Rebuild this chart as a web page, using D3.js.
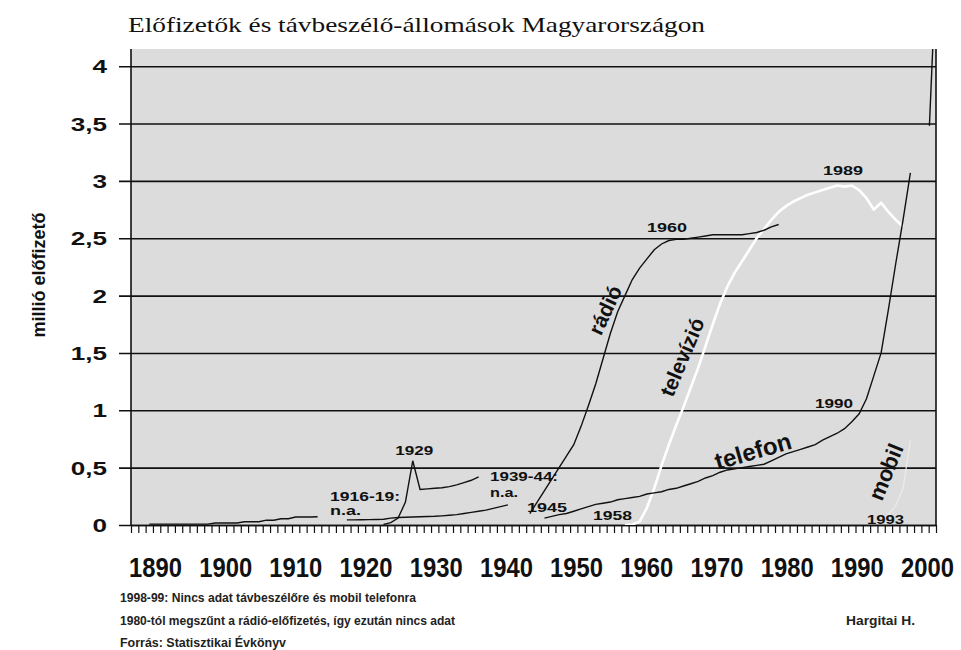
<!DOCTYPE html>
<html><head><meta charset="utf-8">
<script src="https://cdn.jsdelivr.net/npm/d3@7"></script>
<style>body{margin:0;background:#fff} svg{display:block}</style>
</head><body>
<svg id="c" width="961" height="650"></svg>
<script>
// ---------- data ----------
const xTickLabels = ["1890","1900","1910","1920","1930","1940","1950","1960","1970","1980","1990","2000"];
const yTickValues = [0,0.5,1,1.5,2,2.5,3,3.5,4];
const yTickLabels = ["0","0,5","1","1,5","2","2,5","3","3,5","4"];

// rádió (million subscribers); null = no data
const radioYears = d3.range(1925, 1980);
const radioValues = [
  0.005,0.02,0.06,0.2,0.56,0.31,0.315,0.32,0.325,0.335,0.35,0.37,0.39,0.42,
  null,null,null,null,null,null,
  0.1,0.2,0.3,0.4,0.5,0.6,0.7,0.86,1.04,1.23,1.45,1.67,1.86,2.0,2.14,2.24,2.32,2.4,2.45,2.48,
  2.49,2.49,2.5,2.51,2.52,2.53,2.53,2.53,2.53,2.53,2.54,2.55,2.57,2.6,2.62
];

// telefon (távbeszélő-állomások)
const telYears = d3.range(1893, 1998);
const telValues = [
  0.008,0.008,0.008,0.008,0.008,0.008,0.008,0.008,0.008,
  0.018,0.018,0.018,0.018,
  0.028,0.028,0.028,
  0.042,0.042,
  0.055,0.055,
  0.07,0.07,0.07,0.072,
  null,null,null,
  0.045,0.045,0.046,0.047,0.048,0.05,0.06,0.065,0.068,0.07,0.072,0.074,0.076,0.08,0.085,0.09,0.1,0.11,0.12,0.13,0.145,0.16,0.175,
  null,null,null,null,
  0.06,0.075,0.09,0.1,0.12,0.14,0.16,0.18,0.19,0.2,0.22,0.23,0.24,0.25,0.27,0.28,0.29,0.31,0.32,0.34,
  0.36,0.38,0.41,0.43,0.46,0.48,0.49,0.5,0.51,0.52,0.53,0.56,0.59,0.62,0.64,0.66,0.68,0.7,0.74,0.77,
  0.8,0.84,0.9,0.97,1.1,1.3,1.5,1.88,2.28,2.66,3.07
];

// televízió
const tvYears = d3.range(1958, 1997);
const tvValues = [
  0.0,0.005,0.03,0.15,0.32,0.52,0.7,0.87,1.03,1.2,1.37,1.56,1.75,1.93,2.08,2.2,2.3,2.4,2.5,2.58,
  2.66,2.73,2.78,2.82,2.85,2.88,2.9,2.92,2.94,2.96,2.95,2.96,2.92,2.85,2.75,2.81,2.73,2.66,2.6
];

// mobil
const mobileYears = [1993,1994,1995,1996,1997];
const mobileValues = [0.03,0.09,0.17,0.32,0.74];
const mobileLateYears = [1999.6, 2000.15];
const mobileLateValues = [3.48, 4.3];

// ---------- drawing ----------
const svg = d3.select("#c");
const L = 131, R = 936, T = 49, B = 525;
const x = d3.scaleLinear().domain([1890.5, 2000.5]).range([L, R]);
const y = d3.scaleLinear().domain([0, 4.15]).range([B, T]);
const sans = "'Liberation Sans', Arial, sans-serif";

svg.append("defs").append("clipPath").attr("id","plotclip")
  .append("rect").attr("x",L).attr("y",T).attr("width",R-L).attr("height",B-T);

svg.append("rect").attr("x",L).attr("y",T).attr("width",R-L).attr("height",B-T).attr("fill","#dcdcdc");

// title
svg.append("text").attr("x",128).attr("y",32)
  .attr("font-family","'Liberation Serif','DejaVu Serif',serif").attr("font-size",21)
  .attr("textLength",577).attr("lengthAdjust","spacingAndGlyphs").attr("fill","#111")
  .text("Előfizetők és távbeszélő-állomások Magyarországon");

// y grid / axis
const gy = svg.append("g").attr("transform",`translate(${L},0)`)
  .call(d3.axisLeft(y).tickValues(yTickValues).tickSize(-(R-L)).tickFormat((d,i)=>yTickLabels[i]));
gy.select(".domain").remove();
gy.selectAll(".tick line").attr("x1",-12).attr("x2",R-L).attr("stroke","#111").attr("stroke-width",1.6);
const ys = 1.45;
gy.selectAll(".tick text")
  .attr("font-family",sans).attr("font-weight","bold").attr("font-size",18).attr("fill","#111")
  .attr("text-anchor","end").attr("x",-24/ys).attr("dy","0.36em").attr("transform",`scale(${ys},1)`);

// x ticks
const gx = svg.append("g").attr("transform",`translate(0,${B})`)
  .call(d3.axisBottom(x).tickValues(d3.range(111).map(i=>1890.5+i)).tickSize(8).tickSizeOuter(0).tickFormat(""));
gx.select(".domain").attr("stroke","#111").attr("stroke-width",1.6);
gx.selectAll(".tick line").attr("stroke","#111").attr("stroke-width",1.2);

// x labels
const xl = d3.scalePoint().domain(xTickLabels).range([155, 927]);
const gxl = svg.append("g").attr("transform",`translate(0,577)`)
  .call(d3.axisBottom(xl).tickSize(0));
gxl.select(".domain").remove();
gxl.selectAll(".tick text").attr("y",0).attr("dy",0)
  .attr("font-family",sans).attr("font-weight","bold").attr("font-size",27).attr("fill","#111")
  .attr("textLength",53).attr("lengthAdjust","spacingAndGlyphs");

// frame lines
svg.append("line").attr("x1",L).attr("x2",L).attr("y1",T).attr("y2",B).attr("stroke","#111").attr("stroke-width",1.6);
svg.append("line").attr("x1",R).attr("x2",R).attr("y1",T).attr("y2",B).attr("stroke","#111").attr("stroke-width",1.6);

// series
const line = d3.line().defined(d=>d[1]!=null).x(d=>x(d[0])).y(d=>y(d[1]));
const zip = (a,b)=>a.map((v,i)=>[v,b[i]]);
const plot = svg.append("g").attr("clip-path","url(#plotclip)");
plot.append("path").datum(zip(mobileYears,mobileValues)).attr("d",line)
  .attr("fill","none").attr("stroke","#ececec").attr("stroke-width",1.2);
plot.append("path").datum(zip(tvYears,tvValues)).attr("d",line)
  .attr("fill","none").attr("stroke","#ffffff").attr("stroke-width",2.6).attr("stroke-linejoin","round");
plot.append("path").datum(zip(telYears,telValues)).attr("d",line)
  .attr("fill","none").attr("stroke","#111").attr("stroke-width",1.4);
plot.append("path").datum(zip(radioYears,radioValues)).attr("d",line)
  .attr("fill","none").attr("stroke","#111").attr("stroke-width",1.4);
plot.append("path").datum(zip(mobileLateYears,mobileLateValues)).attr("d",line)
  .attr("fill","none").attr("stroke","#111").attr("stroke-width",1.4);

// annotations
function note(txt, px, py, w, size, anchor){
  svg.append("text").attr("x",px).attr("y",py).attr("text-anchor",anchor||"start")
    .attr("font-family",sans).attr("font-weight","bold").attr("font-size",size||13).attr("fill","#111")
    .attr("textLength",w).attr("lengthAdjust","spacingAndGlyphs").text(txt);
}
note("1929", x(1929.2), y(0.61), 38, 13, "middle");
note("1916-19:", 330, 501, 70, 12);
note("n.a.", 330, 515, 31, 12);
note("1939-44:", 490, 481, 68, 12);
note("n.a.", 490, 497, 28, 12);
note("1945", 527, 512, 40, 13);
note("1958", 593, 520, 39, 13);
note("1960", 647, 232, 40, 13);
note("1989", 823, 175, 40, 13);
note("1990", 815, 408, 38, 13);
note("1993", 867, 524, 37, 13);

function rot(txt, cx, cy, ang, size){
  svg.append("text").attr("transform",`translate(${cx},${cy}) rotate(${ang})`)
    .attr("text-anchor","middle").attr("dominant-baseline","central")
    .attr("font-family",sans).attr("font-weight","bold").attr("font-size",size).attr("fill","#111")
    .text(txt);
}
rot("rádió", 605, 310, -65, 21);
rot("televízió", 682, 357, -67, 21);
rot("telefon", 753, 451, -16, 24);
rot("mobil", 886, 472, -68, 22);

// y title
svg.append("text").attr("transform","translate(45,275) rotate(-90)").attr("text-anchor","middle")
  .attr("font-family",sans).attr("font-weight","bold").attr("font-size",18).attr("fill","#111")
  .text("millió előfizető");

// footnotes
function foot(txt, px, py, w){
  svg.append("text").attr("x",px).attr("y",py)
    .attr("font-family",sans).attr("font-weight","bold").attr("font-size",12).attr("fill","#222")
    .attr("textLength",w).attr("lengthAdjust","spacingAndGlyphs").text(txt);
}
foot("1998-99: Nincs adat távbeszélőre és mobil telefonra", 120, 602, 296);
foot("1980-tól megszűnt a rádió-előfizetés, így ezután nincs adat", 120, 625, 335);
foot("Forrás: Statisztikai Évkönyv", 120, 647, 166);
foot("Hargitai H.", 846, 625, 69);
</script>
</body></html>
